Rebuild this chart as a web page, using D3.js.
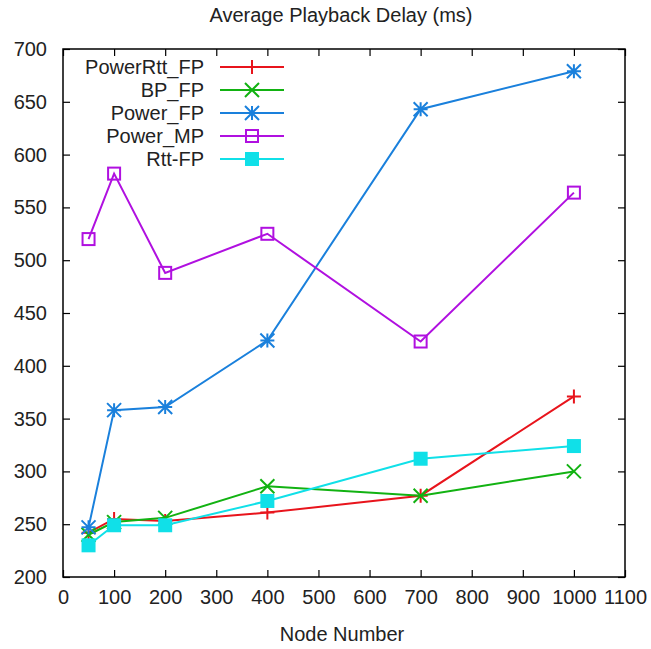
<!DOCTYPE html>
<html>
<head>
<meta charset="utf-8">
<script src="https://cdn.jsdelivr.net/npm/d3@7"></script>
<style>
  html, body { margin: 0; padding: 0; background: #fff; overflow: hidden; }
  svg { display: block; }
  text { font-family: "Liberation Sans", Arial, sans-serif; fill: #222; }
</style>
</head>
<body>
<div id="chart"></div>
<script>
// Chart size and plot area
const width = 651;
const height = 649;
const margin = { top: 49, right: 26, bottom: 72, left: 63 };
const innerWidth = width - margin.left - margin.right;
const innerHeight = height - margin.top - margin.bottom;

// Data
const nodes = [50, 100, 200, 400, 700, 1000];
const powerRttFP = [242, 255, 253, 261, 277, 371];
const bpFP = [240, 252, 256, 286, 277, 300];
const powerFP = [247, 358, 361, 424, 643, 679];
const powerMP = [520, 582, 488, 525, 423, 564];
const rttFP = [230, 249, 249, 272, 312, 324];

const xTicks = [0, 100, 200, 300, 400, 500, 600, 700, 800, 900, 1000, 1100];
const yTicks = [200, 250, 300, 350, 400, 450, 500, 550, 600, 650, 700];

const series = [
  { name: 'PowerRtt_FP', values: powerRttFP, color: '#e8141c', marker: 'plus' },
  { name: 'BP_FP', values: bpFP, color: '#12b212', marker: 'cross' },
  { name: 'Power_FP', values: powerFP, color: '#1a80dc', marker: 'star' },
  { name: 'Power_MP', values: powerMP, color: '#b010e0', marker: 'square' },
  { name: 'Rtt-FP', values: rttFP, color: '#10e0e8', marker: 'filled' }
];

const svg = d3.select('#chart')
  .append('svg')
  .attr('width', width)
  .attr('height', height);

const g = svg.append('g')
  .attr('transform', `translate(${margin.left}, ${margin.top})`);

// Scales
const xScale = d3.scaleLinear().domain([0, 1100]).range([0, innerWidth]);
const yScale = d3.scaleLinear().domain([200, 700]).range([innerHeight, 0]);

const tickLen = 7;
const fmt = d3.format('d');

// Frame
g.append('rect')
  .attr('width', innerWidth)
  .attr('height', innerHeight)
  .style('fill', 'none')
  .style('stroke', '#000')
  .style('stroke-width', 1.5);

// Axes (ticks point inward, mirrored on top and right)
const xAxis = g.append('g')
  .attr('transform', `translate(0,${innerHeight})`)
  .call(d3.axisBottom(xScale).tickValues(xTicks).tickSize(-tickLen).tickPadding(13).tickFormat(fmt));
const xTop = g.append('g')
  .call(d3.axisTop(xScale).tickValues(xTicks).tickSize(-tickLen).tickFormat(''));
const yAxis = g.append('g')
  .call(d3.axisLeft(yScale).tickValues(yTicks).tickSize(-tickLen).tickPadding(16).tickFormat(fmt));
const yRight = g.append('g')
  .attr('transform', `translate(${innerWidth},0)`)
  .call(d3.axisRight(yScale).tickValues(yTicks).tickSize(-tickLen).tickFormat(''));

// mirrored axes carry ticks only
xTop.selectAll('text').remove();
yRight.selectAll('text').remove();

[xAxis, xTop, yAxis, yRight].forEach(a => {
  a.select('.domain').remove();
  a.selectAll('line').style('stroke', '#000').style('stroke-width', 1.2);
  a.selectAll('text').style('font-size', '20px').style('fill', '#222');
});

// Axis title and chart title
svg.append('text')
  .attr('x', 342)
  .attr('y', 641)
  .attr('text-anchor', 'middle')
  .style('font-size', '20px')
  .text('Node Number');

svg.append('text')
  .attr('x', 341)
  .attr('y', 22)
  .attr('text-anchor', 'middle')
  .style('font-size', '20px')
  .text('Average Playback Delay (ms)');

// Marker drawing
function drawMarker(sel, type, color, x, y) {
  const s = 7;
  if (type === 'plus') {
    sel.append('path')
      .attr('d', `M${x - s},${y}H${x + s}M${x},${y - s}V${y + s}`)
      .style('stroke', color).style('stroke-width', 2).style('fill', 'none');
  } else if (type === 'cross') {
    sel.append('path')
      .attr('d', `M${x - s},${y - s}L${x + s},${y + s}M${x - s},${y + s}L${x + s},${y - s}`)
      .style('stroke', color).style('stroke-width', 2).style('fill', 'none');
  } else if (type === 'star') {
    sel.append('path')
      .attr('d', `M${x - s},${y}H${x + s}M${x},${y - s}V${y + s}M${x - s},${y - s}L${x + s},${y + s}M${x - s},${y + s}L${x + s},${y - s}`)
      .style('stroke', color).style('stroke-width', 2).style('fill', 'none');
  } else if (type === 'square') {
    sel.append('rect')
      .attr('x', x - 6).attr('y', y - 6).attr('width', 12).attr('height', 12)
      .style('stroke', color).style('stroke-width', 2).style('fill', 'none');
  } else if (type === 'filled') {
    sel.append('rect')
      .attr('x', x - 7).attr('y', y - 7).attr('width', 14).attr('height', 14)
      .style('fill', color);
  }
}

const line = d3.line()
  .x((d, i) => xScale(nodes[i]))
  .y(d => yScale(d));

// Series lines and markers
series.forEach(s => {
  const sg = g.append('g');
  sg.append('path')
    .datum(s.values)
    .attr('d', line)
    .style('fill', 'none')
    .style('stroke', s.color)
    .style('stroke-width', 2);
  s.values.forEach((v, i) => drawMarker(sg, s.marker, s.color, xScale(nodes[i]), yScale(v)));
});

// Legend
const legend = svg.append('g');
series.forEach((s, i) => {
  const y = 67 + i * 23;
  legend.append('text')
    .attr('x', 204)
    .attr('y', y + 7)
    .attr('text-anchor', 'end')
    .style('font-size', '20px')
    .text(s.name);
  legend.append('line')
    .attr('x1', 220).attr('x2', 284)
    .attr('y1', y).attr('y2', y)
    .style('stroke', s.color)
    .style('stroke-width', 2);
  drawMarker(legend, s.marker, s.color, 252, y);
});
</script>
</body>
</html>
